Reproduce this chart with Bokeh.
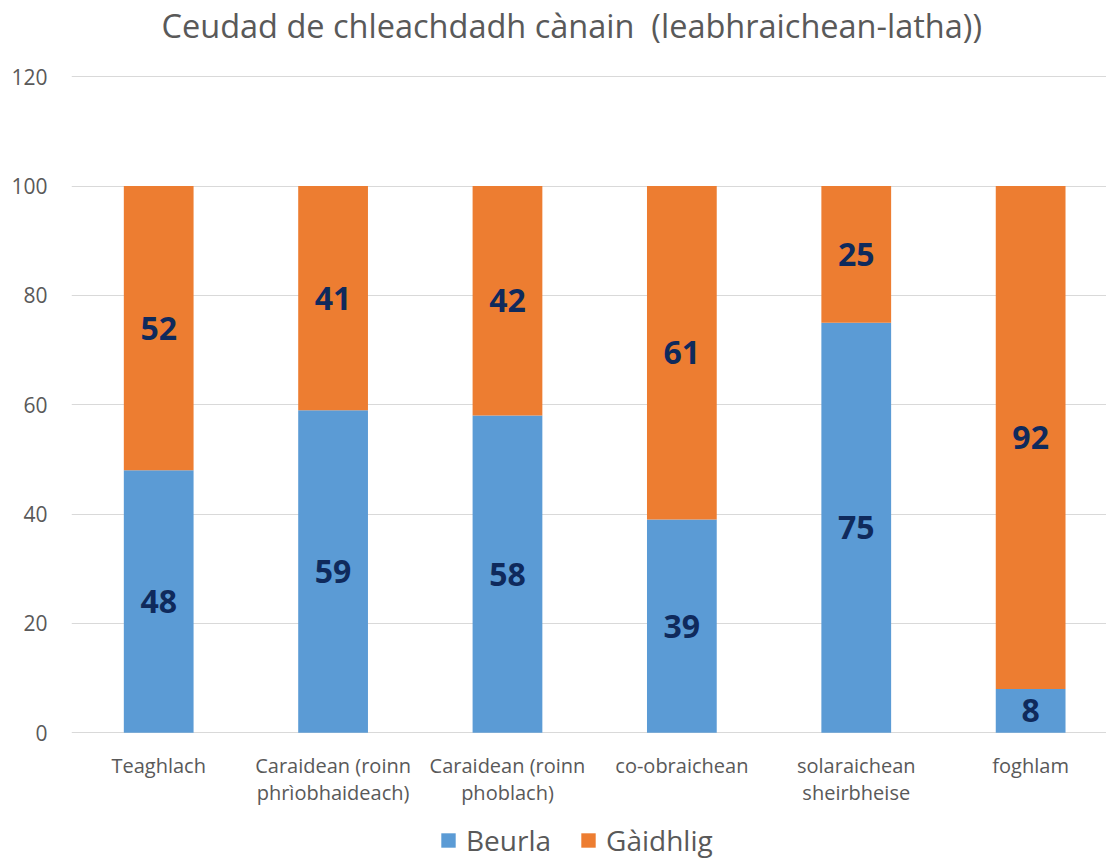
from bokeh.plotting import figure
from bokeh.models import ColumnDataSource, FixedTicker, Range1d, Legend, LegendItem, Title
from bokeh.core.properties import value
from bokeh.embed import file_html
from bokeh.resources import INLINE

# ---- data ----
categories = ["Teaghlach", "Caraidean (roinn\nphrìobhaideach)", "Caraidean (roinn\nphoblach)",
              "co-obraichean", "solaraichean\nsheirbheise", "foghlam"]
beurla = [48, 59, 58, 39, 75, 8]
gaidhlig = [52, 41, 42, 61, 25, 92]
series_names = ["Beurla", "Gàidhlig"]
y_ticks = [0, 20, 40, 60, 80, 100, 120]
title_text = "Ceudad de chleachdadh cànain \u00a0(leabhraichean-latha))"

colors = ["#5B9BD5", "#ED7D31"]
xs = list(range(len(categories)))

src = ColumnDataSource(dict(
    x=xs, Beurla=beurla, Gaidhlig=gaidhlig,
    b_mid=[b / 2 for b in beurla],
    g_mid=[b + g / 2 for b, g in zip(beurla, gaidhlig)],
    b_txt=[str(v) for v in beurla],
    g_txt=[str(v) for v in gaidhlig],
    cat=categories,
    cat_y=[-3.6] * len(categories),
))

p = figure(frame_width=1035, frame_height=785, output_backend="svg", toolbar_location=None,
           title=None,
           x_range=Range1d(-0.5, 5.435), y_range=Range1d(-23.2, 120.4),
           min_border_left=71, min_border_right=0, min_border_top=0, min_border_bottom=0)

# spacer between frame and title, then the title itself
p.add_layout(Title(text=" ", text_font_size="22.5px", standoff=0), "above")
p.add_layout(Title(text=title_text, align="left", offset=90, standoff=0,
                   text_font="Open Sans", text_font_size="32.5px", text_font_style="normal",
                   text_color="#595959"), "above")

p.outline_line_color = None
p.background_fill_color = "white"
p.border_fill_color = "white"

rs = p.vbar_stack(["Beurla", "Gaidhlig"], x="x", width=0.4, source=src,
                  color=colors, line_color=None)

for ycol, tcol in (("b_mid", "b_txt"), ("g_mid", "g_txt")):
    p.text(x="x", y=ycol, text=tcol, source=src, text_align="center", text_baseline="middle",
           text_font=value("Open Sans"), text_font_style="bold", text_font_size="32px",
           text_color="#0F2A5C")

# category labels under the bars
p.text(x="x", y="cat_y", text="cat", source=src, text_align="center", text_baseline="top",
       text_font=value("Open Sans"), text_font_size="20px", text_line_height=1.0,
       text_color="#595959")

# axes
p.yaxis.ticker = FixedTicker(ticks=y_ticks)
p.yaxis.axis_line_color = None
p.yaxis.major_tick_line_color = None
p.yaxis.minor_tick_line_color = None
p.yaxis.major_tick_out = 0
p.yaxis.major_tick_in = 0
p.yaxis.major_label_text_font = "Open Sans"
p.yaxis.major_label_text_font_size = "21px"
p.yaxis.major_label_text_color = "#595959"
p.yaxis.major_label_standoff = 24

p.xaxis.visible = False

p.xgrid.grid_line_color = None
p.ygrid.grid_line_color = "#D9D9D9"
p.ygrid.ticker = FixedTicker(ticks=y_ticks)

legend = Legend(items=[LegendItem(label=series_names[0], renderers=[rs[0]]),
                       LegendItem(label=series_names[1], renderers=[rs[1]])],
                orientation="horizontal", location=(368, 0),
                label_text_font="Open Sans", label_text_font_size="28px",
                label_text_color="#595959", glyph_width=18, glyph_height=18,
                spacing=28, border_line_color=None, background_fill_alpha=0,
                margin=0, padding=0, label_standoff=9)
p.add_layout(legend, "center")

open("out.html", "w").write(file_html(p, INLINE))
